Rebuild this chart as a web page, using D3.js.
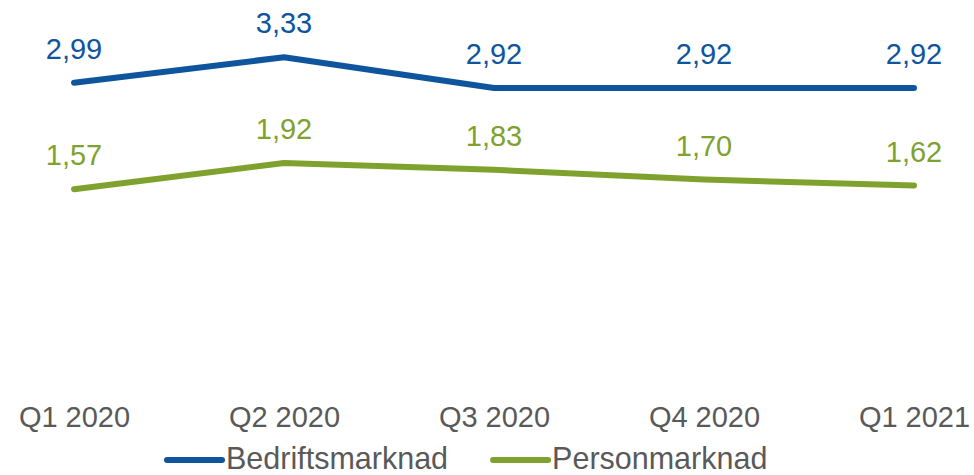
<!DOCTYPE html>
<html>
<head>
<meta charset="utf-8">
<script src="https://cdn.jsdelivr.net/npm/d3@7"></script>
<style>
  body { margin: 0; background: #fff; }
  text { font-family: "Liberation Sans", Arial, sans-serif; }
</style>
</head>
<body>
<div id="plot"></div>
<script>
// chart data
var quarters = ["Q1 2020", "Q2 2020", "Q3 2020", "Q4 2020", "Q1 2021"];
var bedrift = [2.99, 3.33, 2.92, 2.92, 2.92];
var person = [1.57, 1.92, 1.83, 1.70, 1.62];
var seriesNames = ["Bedriftsmarknad", "Personmarknad"];
var colors = ["#0F559D", "#7FA22F"];

var width = 974, height = 475;

var svg = d3.select("#plot")
  .append("svg")
  .attr("width", width)
  .attr("height", height);

var x = d3.scalePoint()
  .domain(quarters)
  .range([74, 914]);

var y = d3.scaleLinear()
  .domain([0, 4])
  .range([307, 7]);

// X axis, no line or ticks
var xAxis = svg.append("g")
  .attr("transform", "translate(0, 406)")
  .call(d3.axisBottom(x).tickSize(0).tickPadding(0));
xAxis.select(".domain").remove();
xAxis.selectAll("text")
  .attr("font-family", "Liberation Sans, Arial, sans-serif")
  .attr("font-size", "29px")
  .attr("fill", "#595959");

var series = [bedrift, person];

series.forEach(function(vals, i) {
  var pts = vals.map(function(v, j) { return {q: quarters[j], v: v}; });

  svg.append("path")
    .datum(pts)
    .attr("fill", "none")
    .attr("stroke", colors[i])
    .attr("stroke-width", 6)
    .attr("stroke-linecap", "round")
    .attr("stroke-linejoin", "round")
    .attr("d", d3.line()
      .x(function(d) { return x(d.q); })
      .y(function(d) { return y(d.v); })
    );

  // value labels above points
  svg.selectAll(".lbl" + i)
    .data(pts)
    .enter()
    .append("text")
    .attr("x", function(d) { return x(d.q); })
    .attr("y", function(d) { return y(d.v) - 24; })
    .attr("text-anchor", "middle")
    .attr("font-size", "29px")
    .attr("fill", colors[i])
    .text(function(d) { return d.v.toFixed(2).replace(".", ","); });
});

// Legend
var lx = 167;
seriesNames.forEach(function(name, i) {
  svg.append("line")
    .attr("x1", lx)
    .attr("x2", lx + 55)
    .attr("y1", 460)
    .attr("y2", 460)
    .attr("stroke", colors[i])
    .attr("stroke-width", 6)
    .attr("stroke-linecap", "round");
  var t = svg.append("text")
    .attr("x", lx + 59)
    .attr("y", 469)
    .attr("font-size", "30.5px")
    .attr("fill", "#595959")
    .text(name);
  lx += 59 + t.node().getComputedTextLength() + 45;
});
</script>
</body>
</html>
